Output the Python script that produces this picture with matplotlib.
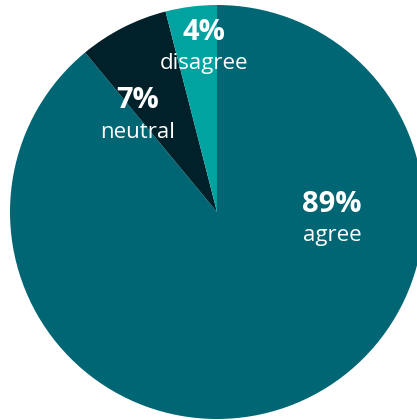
import matplotlib
matplotlib.use("Agg")
import matplotlib.pyplot as plt

# data
labels = ["agree", "neutral", "disagree"]
shares = [89, 7, 4]
colors = ["#006674", "#00202a", "#00a3a0"]

# label anchor points (pixel positions, centre of pie = 217, 212)
label_px = [(332, 204), (138, 101), (204, 32)]

fig = plt.figure(figsize=(4.17, 4.20), dpi=100)
ax = fig.add_axes([0, 0, 1, 1])

scale = 207.0
cx, cy = 217.0, 212.0

# agree starts at 12 o'clock and runs clockwise, disagree closes the circle
ax.pie(shares, colors=colors, startangle=90, counterclock=False, radius=1.0,
       wedgeprops=dict(linewidth=0, edgecolor="none"))

ax.set_xlim(-cx / scale, (417 - cx) / scale)
ax.set_ylim(-(420 - cy) / scale, cy / scale)
ax.set_aspect("equal")
ax.axis("off")

for (px, py), lab, val in zip(label_px, labels, shares):
    x = (px - cx) / scale
    y = (cy - py) / scale
    ax.text(x, y, f"{val}%", ha="center", va="center", color="white",
            fontsize=21, fontweight="bold", family="Open Sans")
    ax.text(x, y - 31 / scale, lab, ha="center", va="center", color="white",
            fontsize=16, family="Open Sans")

fig.savefig("out.png", dpi=100, facecolor="white")
